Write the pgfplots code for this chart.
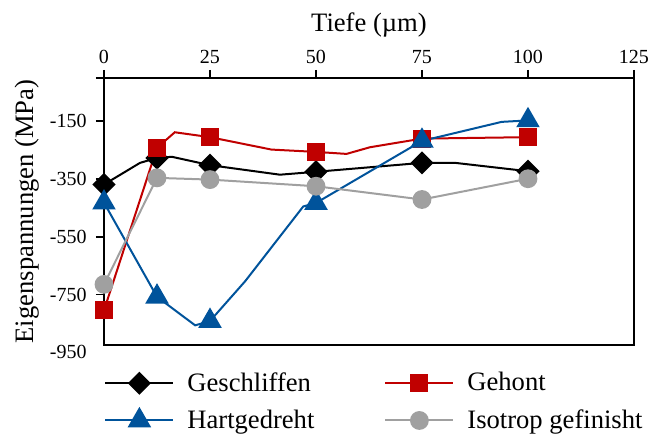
\documentclass[border=0pt]{standalone}
\usepackage{fontspec}
\setmainfont{Liberation Serif}
\usepackage{pgfplots}
\pgfplotsset{compat=1.18}
\definecolor{cred}{HTML}{C00000}
\definecolor{cblue}{HTML}{00539B}
\definecolor{cgray}{HTML}{A0A0A0}
\begin{document}
\begin{tikzpicture}
\begin{axis}[
  scale only axis, width=265pt, height=133.5pt,
  xmin=0, xmax=125, ymin=-925, ymax=0,
  xtick={0,25,50,75,100,125},
  ytick={-750,-550,-350,-150,0},
  yticklabels={-750,-550,-350,-150,{}},
  xtick pos=right, ytick pos=left, xticklabel pos=right,
  tick align=outside, major tick length=4pt,
  tick style={black, line width=0.8pt},
  axis line style={black, line width=0.8pt},
  /pgf/number format/assume math mode=true,
  tick label style={font=\fontsize{10}{12}\selectfont},
  xticklabel style={inner sep=0pt, yshift=2.8pt},
  yticklabel style={anchor=east, inner sep=0pt, xshift=-4.5pt},
  xlabel={Tiefe (µm)}, ylabel={Eigenspannungen (MPa)},
  label style={font=\fontsize{13.3}{15}\selectfont},
  xlabel style={at={(rel axis cs:0.5,1.2)}, anchor=center},
  ylabel style={at={(rel axis cs:-0.145,0.5)}, anchor=center},
  legend columns=2,
  legend style={at={(rel axis cs:0,0)}, anchor=north west, yshift=-11.5pt,
    draw=none, inner sep=0pt, font=\fontsize{13.3}{15}\selectfont,
    /tikz/every odd column/.append style={column sep=4.5pt},
    /tikz/every even column/.append style={column sep=33pt}, row sep=3.75pt},
  legend cell align=left,
  legend image code/.code={\draw[mark indices={2}] plot coordinates {(0pt,0pt)(17pt,0pt)(34pt,0pt)};},
  every axis plot/.append style={line width=1pt},
]
\addplot[black, mark=square*, mark size=3.6pt, mark options={rotate=45, solid, fill=black},
  mark indices={1,3,5,7,8,10}] table {
x y
0 -369
8.5 -294
12.5 -277
16 -273
25 -302
41.5 -335
50 -325
75 -294
82.8 -294
100 -323
};
\addlegendentry{Geschliffen}
\addplot[cred, mark=square*, mark size=4pt, mark options={solid, fill=cred},
  mark indices={1,2,4,6,9,10}] table {
x y
0 -805
12.5 -242
16.7 -188
25 -205
39.5 -248
50 -256
57.2 -263
62.7 -240
75 -210
100 -205
};
\addlegendentry{Gehont}
\addplot[cblue, mark=triangle*, mark size=5.8pt, mark options={solid, fill=cblue},
  mark indices={1,2,4,7,8,10}] table {
x y
0 -432
12.5 -758
21.5 -857
25 -842
33.3 -704
47 -445
50 -433
75 -218
93.8 -152
100 -147
};
\addlegendentry{Hartgedreht}
\addplot[cgray, mark=*, mark size=4.2pt, mark options={solid, fill=cgray}] table {
x y
0 -715
12.5 -346
25 -352
50 -375
75 -421
100 -349
};
\addlegendentry{Isotrop gefinisht}
\coordinate (bl) at (rel axis cs:0,0);
\coordinate (tr) at (rel axis cs:1,1);
\coordinate (m950) at (axis cs:0,-950);
\end{axis}
\node[anchor=east, inner sep=0pt, font=\fontsize{10}{12}\selectfont] at ([xshift=-8.5pt]m950) {-950};
\path ([xshift=-52pt,yshift=-42.5pt]bl) rectangle ([xshift=8pt,yshift=39pt]tr);
\end{tikzpicture}
\end{document}
